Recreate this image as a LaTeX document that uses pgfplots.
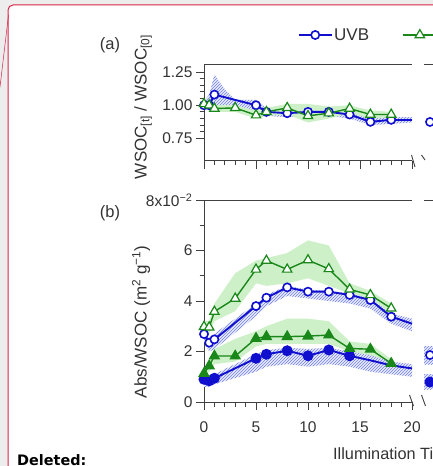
\documentclass[border=0pt]{standalone}
\usepackage{pgfplots}
\pgfplotsset{compat=1.18}
\usetikzlibrary{patterns}
\usepackage{fontspec}
\setmainfont{Liberation Sans}
\newfontfamily\delfont{DejaVu Sans}
\definecolor{uvb}{RGB}{15,15,205}
\definecolor{uva}{RGB}{25,135,25}
\definecolor{gband}{RGB}{205,240,200}
\definecolor{bhatch}{RGB}{110,130,230}
\definecolor{frame}{RGB}{215,35,70}

\pgfplotsset{
  panel/.style={scale only axis, width=208pt, xmin=0, xmax=20,
    axis x line*=bottom, axis y line*=left,
    axis line style={-, line width=1pt, black!75},
    tick align=outside, major tick length=8pt, minor tick length=4.5pt,
    every tick/.style={line width=0.9pt, black!75},
    xtick={0,5,...,20}, minor x tick num=4,
    ticklabel style={font=\fontsize{15.5}{18}\selectfont, text=black!80},
    xticklabel style={yshift=-8pt},
    clip=false},
  bopen/.style={uvb, line width=1.9pt, mark=*, mark size=4.1pt,
    mark options={solid, fill=white, draw=uvb, line width=1.6pt}},
  bfill/.style={uvb, line width=1.9pt, mark=*, mark size=4.5pt,
    mark options={solid, fill=uvb, draw=uvb}},
  gopen/.style={uva, line width=1.4pt, mark=triangle*, mark size=5.4pt,
    mark options={solid, fill=white, draw=uva, line width=1.2pt}},
  gfill/.style={uva, line width=1.4pt, mark=triangle*, mark size=5.4pt,
    mark options={solid, fill=uva, draw=uva}},
  bband/.style={draw=none, preaction={fill=blue!8}, pattern=north east lines, pattern color=bhatch, forget plot},
  gband/.style={draw=none, fill=gband, forget plot},
}

\begin{document}
\begin{tikzpicture}[x=1pt,y=1pt]
\useasboundingbox (0,0) rectangle (433,466);
\begin{scope}
\clip (0,0) rectangle (433,466);
\fill[black!7] (0,0) rectangle (433,466);
\draw[frame, line width=1pt, fill=white, rounded corners=5pt] (8,-20) rectangle (470,461);
\draw[frame, line width=0.5pt] (8.5,451) -- (0,379);

% ---------- panel (a)
\begin{axis}[panel, at={(204pt,305pt)}, anchor=south west, height=96pt,
  ymin=0.58, ymax=1.303, ytick={0.75,1,1.25}, yticklabels={0.75,1.00,1.25},
  minor y tick num=4, xticklabels={},
  legend columns=2,
  legend style={at={(axis description cs:0.45,1.3125)}, anchor=west, draw=none, fill=none,
    font=\fontsize{17}{20}\selectfont, text=black!80, inner sep=0pt, nodes={inner sep=1.5pt},
    /tikz/every even column/.append style={column sep=32pt}},
  legend image code/.code={\draw[#1] (0pt,0pt) -- (33pt,0pt);
    \draw[#1] plot coordinates {(16.5pt,0pt)};}]
\addplot[bband] coordinates {(0,1.03)(0.5,1.08)(1,1.23)(2,1.12)(3,1.04)(5,1.04)(6,0.98)(8,0.97)(10,0.98)(12,0.98)(14,0.96)(16,0.91)(18,0.91)(20,0.91)
  (20,0.87)(18,0.86)(16,0.85)(14,0.9)(12,0.92)(10,0.92)(8,0.91)(6,0.92)(5,0.96)(3,0.97)(2,0.98)(1,0.98)(0.5,0.97)(0,0.97)} -- cycle;
\addplot[gband] coordinates {(0,1.03)(1,1.0)(3,1.0)(5,0.96)(6,0.98)(8,1.01)(10,1.01)(12,0.99)(14,1.0)(16,0.96)(18,0.95)
  (18,0.91)(16,0.9)(14,0.94)(12,0.9)(10,0.87)(8,0.93)(6,0.92)(5,0.9)(3,0.95)(1,0.95)(0,0.98)} -- cycle;
\addplot[bopen] coordinates {(0,1.00)(0.5,1.00)(1,1.08)(5,1.00)(6,0.95)(8,0.94)(10,0.95)(12,0.95)(14,0.93)(16,0.875)(18,0.89)};
\addlegendentry{UVB}
\addplot[uvb, line width=1.9pt, forget plot] coordinates {(18,0.89)(20,0.89)};
\addplot[gopen] coordinates {(0,1.01)(0.5,1.0)(1,0.975)(3,0.98)(5,0.925)(6,0.95)(8,0.98)(10,0.92)(12,0.94)(14,0.975)(16,0.93)(18,0.93)};
\addlegendentry{UVA}
\draw[line width=1pt, black!75] (rel axis cs:0,1) -- (rel axis cs:1,1);
\end{axis}
\begin{axis}[scale only axis, at={(424pt,305pt)}, anchor=south west, width=100pt, height=96pt,
  xmin=0, xmax=10, ymin=0.58, ymax=1.303, hide axis, clip=false]
\addplot[bopen] coordinates {(0.6,0.874)(3,0.87)};
\draw[line width=1pt, black!75] (rel axis cs:0,1) -- (rel axis cs:1,1);
\end{axis}

% ---------- panel (b)
\begin{axis}[panel, at={(204pt,64pt)}, anchor=south west, height=202pt,
  ymin=0, ymax=8, ytick={0,2,4,6,8}, yticklabels={0,2,4,6,{8x10\textsuperscript{−2}}},
  minor y tick num=1, xticklabels={0,5,10,15,20}]
\addplot[gband] coordinates {(0,3.2)(0.5,3.2)(1,3.9)(3,5.1)(5,5.6)(6,5.7)(8,5.9)(10,6.4)(12,6.2)(14,4.7)(16,4.4)(18,3.9)
  (18,3.5)(16,4.0)(14,4.3)(12,4.6)(10,4.9)(8,4.7)(6,4.6)(5,4.7)(3,3.6)(1,3.2)(0.5,2.7)(0,2.8)} -- cycle;
\addplot[gband] coordinates {(0,1.3)(0.5,1.6)(1,2.1)(3,2.5)(5,2.8)(6,3.0)(8,3.3)(10,3.3)(12,3.2)(14,2.4)(16,2.3)(18,1.7)
  (18,1.4)(16,1.6)(14,2.0)(12,2.3)(10,2.3)(8,2.3)(6,2.3)(5,2.2)(3,1.6)(1,1.5)(0.5,1.2)(0,1.0)} -- cycle;
\addplot[bband] coordinates {(0,2.8)(0.5,2.5)(1,2.7)(5,3.9)(6,4.25)(8,4.6)(10,4.45)(12,4.4)(14,4.3)(16,4.1)(18,3.5)(20,3.3)
  (20,2.8)(18,3.1)(16,3.7)(14,3.9)(12,4.0)(10,4.1)(8,4.2)(6,3.8)(5,3.4)(1,2.1)(0.5,2.0)(0,2.4)} -- cycle;
\addplot[bband] coordinates {(0,1.0)(0.5,1.0)(1,1.1)(5,1.9)(6,2.05)(8,2.15)(10,2.1)(12,2.15)(14,2.0)(16,1.85)(18,1.6)(20,1.5)
  (20,1.0)(18,1.1)(16,1.2)(14,1.4)(12,1.5)(10,1.4)(8,1.5)(6,1.4)(5,1.2)(1,0.7)(0.5,0.6)(0,0.6)} -- cycle;
\addplot[bopen] coordinates {(0,2.69)(0.5,2.35)(1,2.48)(5,3.8)(6,4.13)(8,4.54)(10,4.37)(12,4.37)(14,4.24)(16,4.04)(18,3.38)};
\addplot[uvb, line width=1.9pt] coordinates {(18,3.38)(20,3.1)};
\addplot[bfill] coordinates {(0,0.9)(0.5,0.84)(1,0.94)(5,1.73)(6,1.89)(8,2.03)(10,1.83)(12,2.06)(14,1.83)};
\addplot[uvb, line width=1.9pt] coordinates {(14,1.83)(16,1.65)(18,1.45)(20,1.33)};
\addplot[gopen] coordinates {(0,2.98)(0.5,2.96)(1,3.58)(3,4.1)(5,5.25)(6,5.6)(8,5.25)(10,5.62)(12,5.27)(14,4.46)(16,4.24)(18,3.71)};
\addplot[gfill] coordinates {(0,1.13)(0.5,1.43)(1,1.82)(3,1.82)(5,2.52)(6,2.59)(8,2.59)(10,2.61)(12,2.65)(14,2.12)(16,2.09)(18,1.53)};
\draw[line width=1pt, black!75] (rel axis cs:0,1) -- (rel axis cs:1,1);
\end{axis}
\begin{axis}[scale only axis, at={(424pt,64pt)}, anchor=south west, width=100pt, height=202pt,
  xmin=0, xmax=10, ymin=0, ymax=8, hide axis, clip=false]
\addplot[bband] coordinates {(0,2.2)(3,2.2)(3,1.5)(0,1.5)} -- cycle;
\addplot[bband] coordinates {(0,1.1)(3,1.1)(3,0.5)(0,0.5)} -- cycle;
\addplot[bopen] coordinates {(0.6,1.86)(3,1.86)};
\addplot[bfill] coordinates {(0.6,0.79)(3,0.79)};
\draw[line width=1pt, black!75] (rel axis cs:0,1) -- (rel axis cs:1,1);
\end{axis}

% axis breaks
\draw[line width=0.9pt, black!75] (409.5,71) -- (413.5,60) (421.5,71) -- (425.5,60);
\draw[line width=0.9pt, black!75] (411.5,311) -- (415,299) (421.5,311) -- (425,306);

% labels
\node[font=\fontsize{16.5}{19}\selectfont, text=black!80] at (110,420.5) {(a)};
\node[font=\fontsize{16.5}{19}\selectfont, text=black!80] at (110,252.5) {(b)};
\node[rotate=90, font=\fontsize{17}{20}\selectfont, text=black!80] at (143,359) {WSOC\textsubscript{[t]} / WSOC\textsubscript{[0]}};
\node[rotate=90, font=\fontsize{17}{20}\selectfont, text=black!80] at (141,144) {Abs/WSOC (m\textsuperscript{2} g\textsuperscript{−1})};
\node[anchor=base west, inner sep=0pt, font=\fontsize{16.3}{19}\selectfont, text=black!80] at (333,6) {Illumination Time (h)};
\node[anchor=base west, inner sep=0pt, font=\delfont\bfseries\fontsize{14.4}{16}\selectfont] at (17,1) {Deleted:};
\end{scope}
\end{tikzpicture}
\end{document}
